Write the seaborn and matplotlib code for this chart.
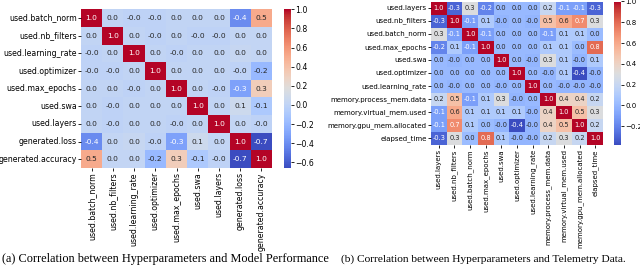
import numpy as np
import pandas as pd
import matplotlib
matplotlib.use("Agg")
import matplotlib.pyplot as plt
import seaborn as sns

# ---- data: panel (a) ----
labels_a = ["used.batch_norm", "used.nb_filters", "used.learning_rate",
            "used.optimizer", "used.max_epochs", "used.swa", "used.layers",
            "generated.loss", "generated.accuracy"]
row_batch_norm = [1.0, 0.01, -0.01, -0.01, 0.01, 0.01, 0.01, -0.41, 0.51]
row_nb_filters = [0.01, 1.0, 0.01, -0.01, 0.01, -0.01, -0.01, 0.02, 0.02]
row_learning_rate = [-0.01, 0.01, 1.0, 0.01, -0.01, 0.01, 0.01, 0.04, 0.02]
row_optimizer = [-0.01, -0.01, 0.01, 1.0, 0.01, 0.01, 0.01, -0.01, -0.19]
row_max_epochs = [0.01, 0.01, -0.01, 0.01, 1.0, 0.01, -0.01, -0.31, 0.32]
row_swa = [0.01, -0.01, 0.01, 0.01, 0.01, 1.0, 0.01, 0.07, -0.09]
row_layers = [0.01, -0.01, 0.01, 0.01, -0.01, 0.01, 1.0, 0.02, -0.01]
row_loss = [-0.41, 0.02, 0.04, -0.01, -0.31, 0.07, 0.02, 1.0, -0.66]
row_accuracy = [0.51, 0.02, 0.02, -0.19, 0.32, -0.09, -0.01, -0.66, 1.0]

# ---- data: panel (b) ----
labels_b = ["used.layers", "used.nb_filters", "used.batch_norm", "used.max_epochs",
            "used.swa", "used.optimizer", "used.learning_rate",
            "memory.process_mem.data", "memory.virtual_mem.used",
            "memory.gpu_mem.allocated", "elapsed_time"]
b_layers = [1.0, -0.3, 0.3, -0.2, 0.01, 0.01, 0.01, 0.2, -0.1, -0.1, -0.3]
b_nb_filters = [-0.3, 1.0, -0.1, 0.1, -0.01, 0.01, -0.01, 0.5, 0.6, 0.7, 0.3]
b_batch_norm = [0.3, -0.1, 1.0, -0.1, 0.01, 0.01, 0.01, -0.1, 0.1, 0.1, 0.02]
b_max_epochs = [-0.2, 0.1, -0.1, 1.0, 0.01, 0.01, 0.01, 0.1, 0.1, 0.02, 0.8]
b_swa = [0.01, -0.01, 0.01, 0.01, 1.0, 0.01, -0.01, 0.3, 0.1, -0.01, 0.1]
b_optimizer = [0.01, 0.01, 0.01, 0.01, 0.01, 1.0, 0.01, -0.01, 0.1, -0.38, -0.01]
b_learning_rate = [0.01, -0.01, 0.01, 0.01, -0.01, 0.01, 1.0, 0.01, -0.01, -0.01, -0.01]
b_process_mem = [0.2, 0.5, -0.1, 0.1, 0.3, -0.01, 0.01, 1.0, 0.4, 0.4, 0.2]
b_virtual_mem = [-0.1, 0.6, 0.1, 0.1, 0.1, 0.1, -0.01, 0.4, 1.0, 0.5, 0.3]
b_gpu_mem = [-0.1, 0.7, 0.1, 0.02, -0.01, -0.38, -0.01, 0.4, 0.5, 1.0, 0.2]
b_elapsed = [-0.3, 0.3, 0.02, 0.8, 0.1, -0.01, -0.01, 0.2, 0.3, 0.2, 1.0]

caption_a = "(a) Correlation between Hyperparameters and Model Performance"
caption_b = "(b) Correlation between Hyperparameters and Telemetry Data."

df_a = pd.DataFrame([row_batch_norm, row_nb_filters, row_learning_rate, row_optimizer,
                     row_max_epochs, row_swa, row_layers, row_loss, row_accuracy],
                    index=labels_a, columns=labels_a)
df_b = pd.DataFrame([b_layers, b_nb_filters, b_batch_norm, b_max_epochs, b_swa,
                     b_optimizer, b_learning_rate, b_process_mem, b_virtual_mem,
                     b_gpu_mem, b_elapsed], index=labels_b, columns=labels_b)

W, H = 640, 265
fig = plt.figure(figsize=(W / 100, H / 100), dpi=100)

def box(x0, y0, x1, y1):
    return [x0 / W, 1 - y1 / H, (x1 - x0) / W, (y1 - y0) / H]

ax_a = fig.add_axes(box(81, 9.3, 272, 168))
cax_a = fig.add_axes(box(284, 9.3, 291, 168))
ax_b = fig.add_axes(box(431, 1.5, 603, 145))
cax_b = fig.add_axes(box(614, 1.5, 621, 145))

sns.heatmap(df_a, ax=ax_a, cbar_ax=cax_a, cmap="coolwarm", annot=True, fmt=".1f",
            annot_kws={"fontsize": 5.4}, xticklabels=True, yticklabels=True)
sns.heatmap(df_b, ax=ax_b, cbar_ax=cax_b, cmap="coolwarm", annot=True, fmt=".1f",
            annot_kws={"fontsize": 4.8}, xticklabels=True, yticklabels=True)

for ax, fs in ((ax_a, 5.6), (ax_b, 5.0)):
    ax.tick_params(axis="both", labelsize=fs, length=2, width=0.6, pad=1)
    ax.set_xticklabels(ax.get_xticklabels(), rotation=90)
    ax.set_yticklabels(ax.get_yticklabels(), rotation=0)
    ax.set_xlabel("")
    ax.set_ylabel("")

for cax, fs in ((cax_a, 5.6), (cax_b, 5.0)):
    cax.tick_params(labelsize=fs, length=2, width=0.6, pad=1)

fig.text(165 / W, 1 - 259 / H, caption_a, ha="center", va="center",
         fontsize=8.8, family="Liberation Serif")
fig.text(483 / W, 1 - 259 / H, caption_b, ha="center", va="center",
         fontsize=8.2, family="Liberation Serif")

fig.savefig("out.png", dpi=100)
